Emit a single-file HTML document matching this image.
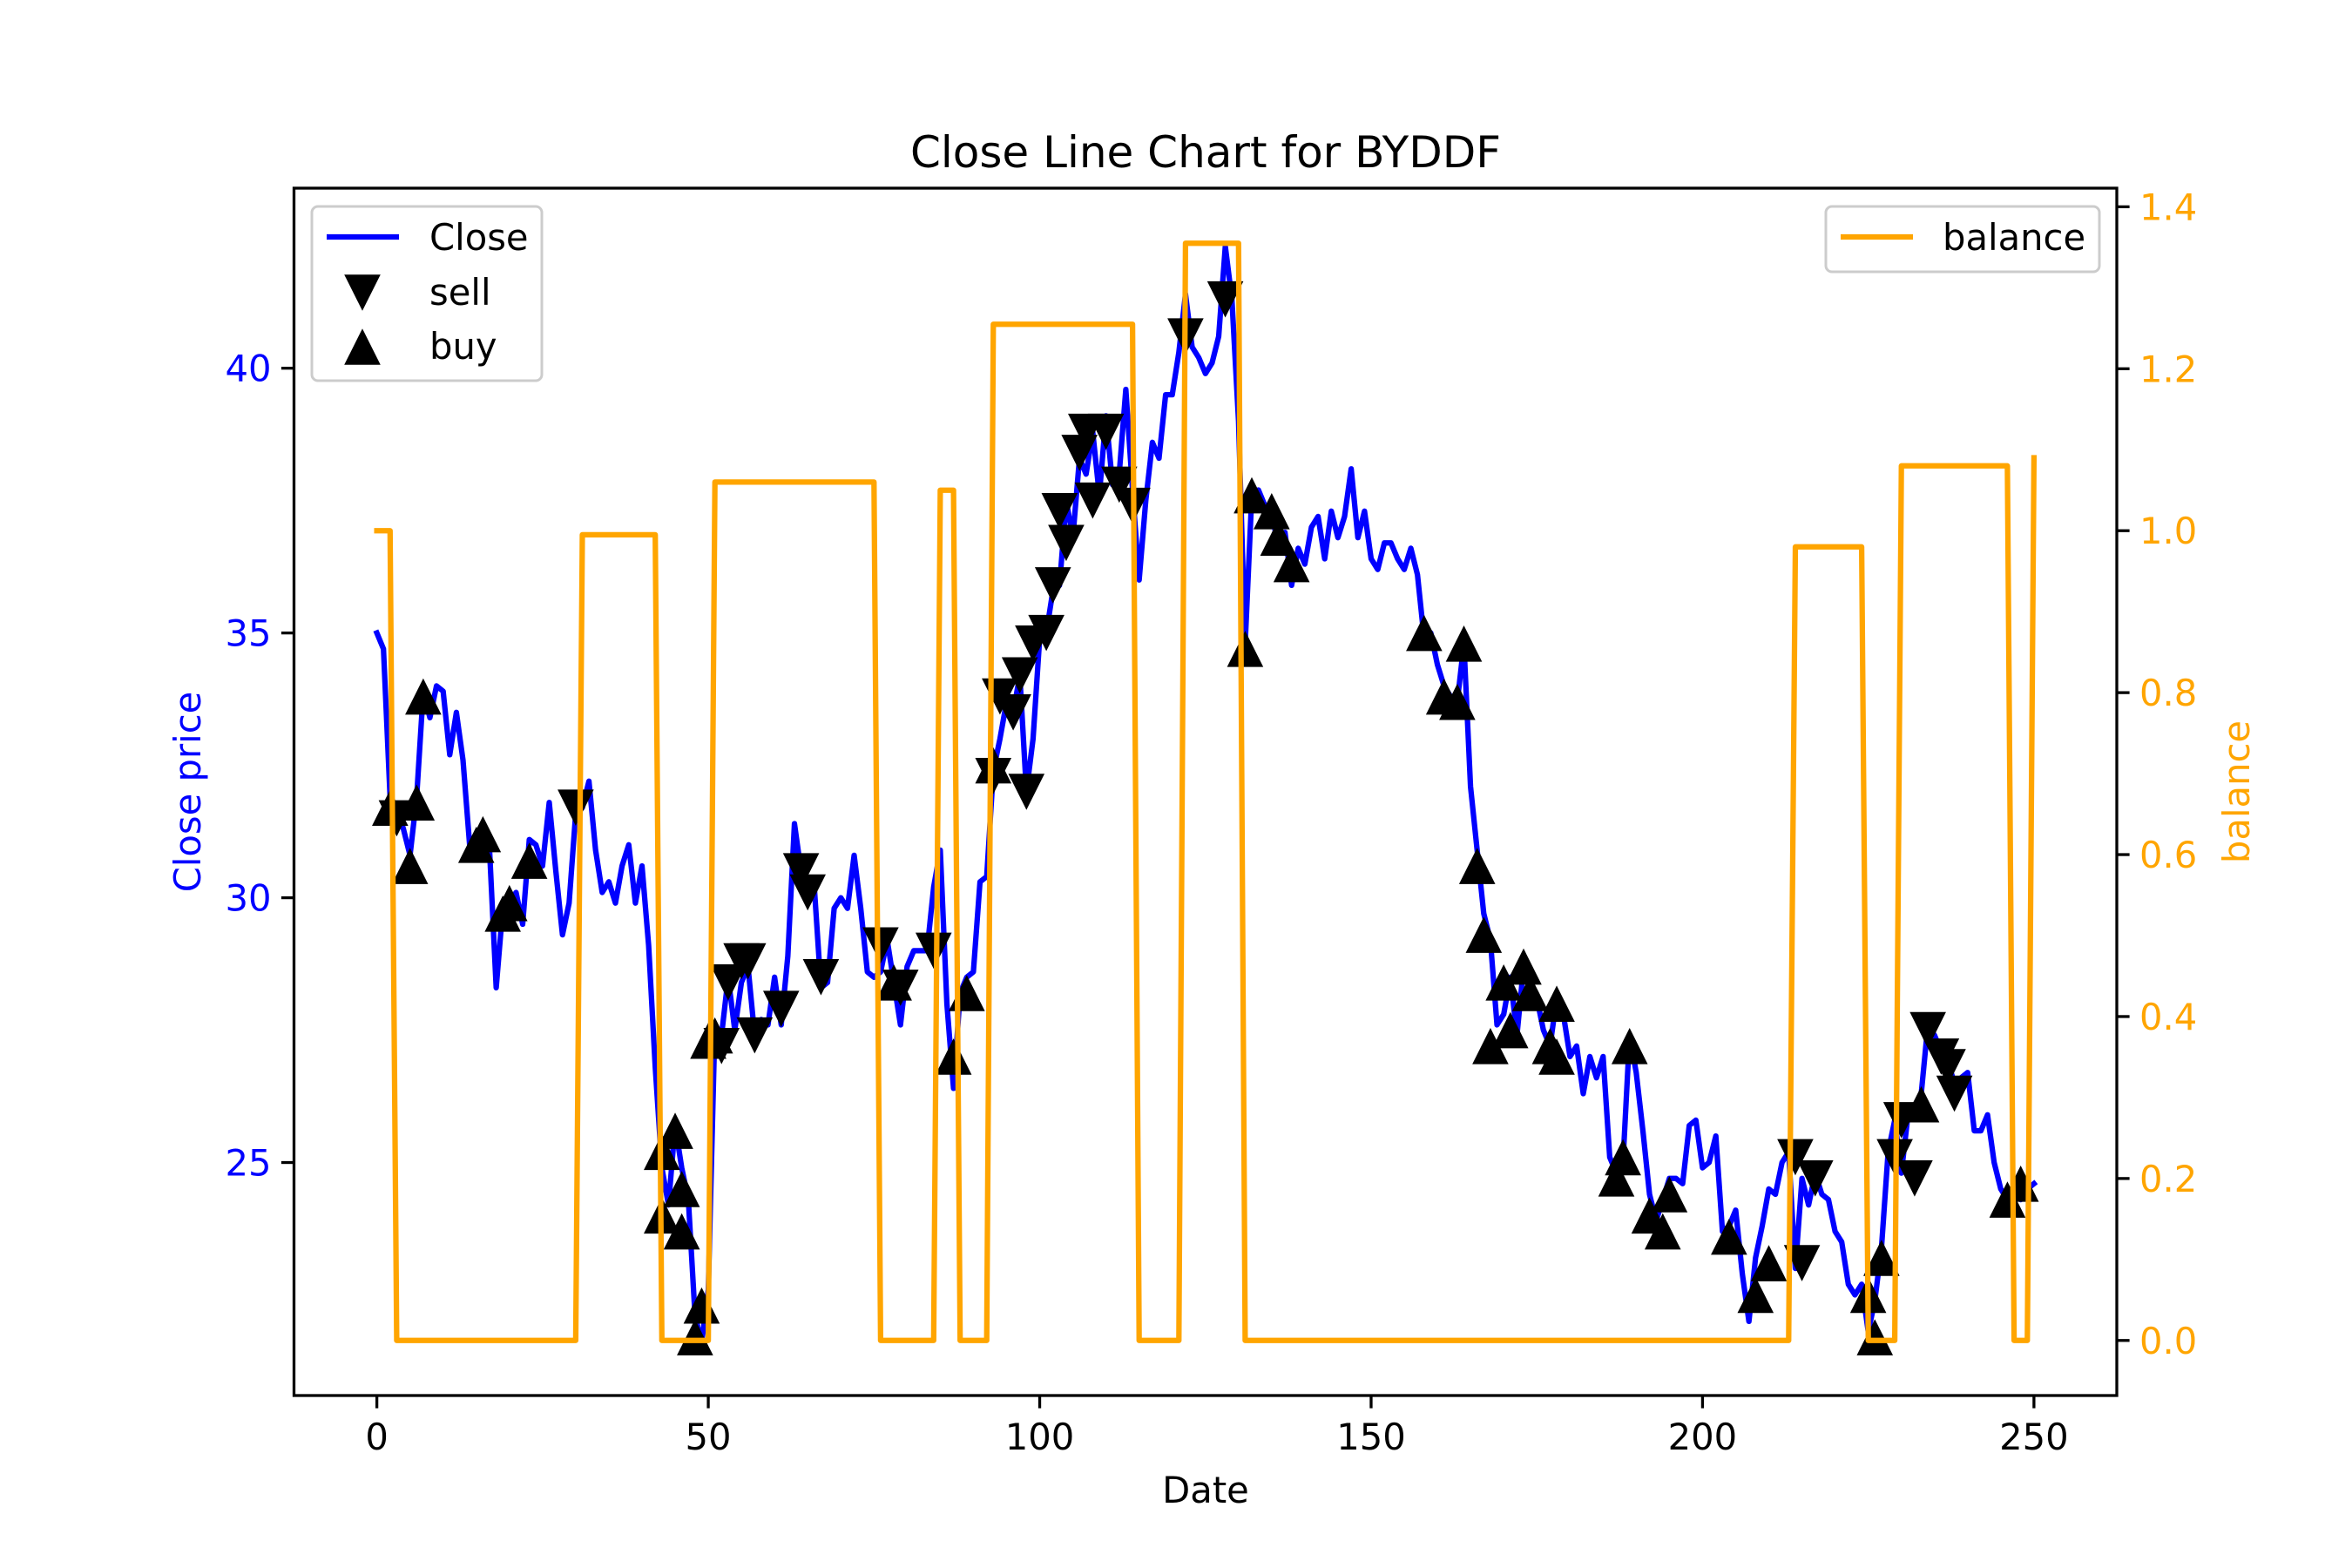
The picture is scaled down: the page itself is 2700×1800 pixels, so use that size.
<!DOCTYPE html>
<html><head><meta charset="utf-8"><style>
html,body{margin:0;padding:0;background:#fff;}
svg{display:block;font-family:"Liberation Sans","DejaVu Sans",sans-serif;}
</style></head><body>
<svg id="chart" width="2700" height="1800" viewBox="0 0 2700 1800" xmlns="http://www.w3.org/2000/svg">
<rect x="0" y="0" width="2700" height="1800" fill="#fff"/>
<text x="1384" y="192" font-size="50" text-anchor="middle" fill="#000" font-family="DejaVu Sans, sans-serif">Close Line Chart for BYDDF</text>
<g id="plot"></g>
<text x="1384" y="1725" font-size="41.7" text-anchor="middle" fill="#000" font-family="DejaVu Sans, sans-serif">Date</text>
<text transform="translate(230,909) rotate(-90)" font-size="41.7" text-anchor="middle" fill="blue" font-family="DejaVu Sans, sans-serif">Close price</text>
<text transform="translate(2582,909) rotate(-90)" font-size="41.7" text-anchor="middle" fill="orange" font-family="DejaVu Sans, sans-serif">balance</text>
</svg>
<script>
const closeValues=[35.0,34.7,31.9,31.7,31.3,30.8,31.9,33.9,33.4,34.0,33.9,32.7,33.5,32.6,31.0,31.0,31.2,30.9,28.3,29.8,29.9,30.1,29.5,31.1,31.0,30.6,31.8,30.5,29.3,29.9,31.6,31.7,32.2,30.9,30.1,30.3,29.9,30.6,31.0,29.9,30.6,29.1,26.8,24.9,24.2,25.7,24.9,24.3,22.1,21.6,22.6,27.6,27.4,28.5,27.5,28.4,28.7,27.4,27.7,27.6,28.5,27.6,28.9,31.4,30.5,30.1,30.2,28.3,28.4,29.8,30.0,29.8,30.8,29.8,28.6,28.5,28.6,29.2,28.4,27.6,28.7,29.0,29.0,29.0,30.2,30.9,28.0,26.4,28.2,28.5,28.6,30.3,30.4,32.4,33.0,33.7,33.5,34.2,32.0,33.0,34.9,35.0,35.8,35.9,37.5,36.8,38.3,38.0,38.8,37.6,39.1,37.8,38.0,39.6,37.7,36.0,37.5,38.6,38.3,39.5,39.5,40.3,41.4,40.4,40.2,39.9,40.1,40.6,42.3,41.3,39.0,34.8,37.6,37.7,37.4,37.3,36.6,36.9,35.9,36.6,36.3,37.0,37.2,36.4,37.3,36.8,37.2,38.1,36.8,37.3,36.4,36.2,36.7,36.7,36.4,36.2,36.6,36.1,34.9,35.0,34.4,34.0,33.8,33.7,34.8,32.1,30.9,29.7,29.2,27.6,27.8,28.5,27.4,28.7,28.3,28.1,27.5,27.2,28.1,27.8,27.0,27.2,26.3,27.0,26.6,27.0,25.1,24.8,25.0,27.4,26.7,25.6,24.4,23.9,24.3,24.7,24.7,24.6,25.7,25.8,24.9,25.0,25.5,23.7,23.8,24.1,22.9,22.0,23.2,23.8,24.5,24.4,25.0,25.2,23.0,24.7,24.2,24.8,24.4,24.3,23.7,23.5,22.7,22.5,22.7,21.8,22.4,23.4,25.2,25.8,24.8,25.9,26.0,26.3,27.6,27.4,27.1,26.9,26.5,26.6,26.7,25.6,25.6,25.9,25.0,24.5,24.3,24.5,24.3,24.5,24.6];
const balanceStartDays=[0,3,31,43,51,76,85,88,93,115,122,131,214,225,230,247,250];
const balanceValues=[1.0,0,0.995,0,1.06,0,1.05,0,1.255,0,1.355,0,0.98,0,1.08,0,1.09];
const sellDays=[3,30,52,53,55,56,57,61,64,65,67,76,79,84,93,94,96,97,98,99,101,102,103,104,106,107,108,110,112,114,122,128,214,215,217,229,230,232,234,236,237,238];
const sellValues=[31.5,31.7,27.2,28.4,28.8,28.8,27.4,27.9,30.5,30.1,28.5,29.1,28.3,29.0,32.3,33.8,33.5,34.2,32.0,34.8,35.0,35.9,37.3,36.7,38.4,38.8,37.5,38.8,37.8,37.4,40.6,41.3,25.1,23.1,24.7,25.1,25.8,24.7,27.5,27.0,26.8,26.3];
const buyDays=[2,5,6,7,15,16,19,20,23,43,43,45,46,46,48,49,50,51,78,87,89,93,131,132,135,136,138,158,161,163,164,166,167,168,170,171,173,174,177,178,178,187,188,189,192,194,195,204,208,210,225,226,227,233,246,248];
const buyValues=[31.7,30.6,31.8,33.8,31.0,31.2,29.7,29.9,30.7,25.2,24.0,25.6,24.5,23.7,21.7,22.3,27.3,27.4,28.4,27.0,28.2,32.5,34.7,37.6,37.3,36.8,36.3,35.0,33.8,33.7,34.8,30.6,29.3,27.2,28.4,27.5,28.7,28.2,27.2,28.0,27.0,24.7,25.1,27.2,24.0,23.7,24.4,23.6,22.5,23.1,22.5,21.7,23.2,26.1,24.3,24.6];
const xTicks=[0,50,100,150,200,250];
const leftTicks=[25,30,35,40];
const rightTicks=[0.0,0.2,0.4,0.6,0.8,1.0,1.2,1.4];

const L=337.5,R=2430,T=216,B=1602;
const X0=-12.5,X1=262.5,YL0=20.6,YL1=43.4,YR0=-0.068,YR1=1.423;
function xs(d){return L+(d-X0)/(X1-X0)*(R-L);}
function yl(v){return B-(v-YL0)/(YL1-YL0)*(B-T);}
function yr(v){return B-(v-YR0)/(YR1-YR0)*(B-T);}
const NS='http://www.w3.org/2000/svg';
const svg=document.getElementById('chart');
const g=document.getElementById('plot');
function mk(tag,attrs,parent){const e=document.createElementNS(NS,tag);for(const k in attrs)e.setAttribute(k,attrs[k]);(parent||g).appendChild(e);return e;}

let pts=closeValues.map((v,i)=>xs(i).toFixed(1)+','+yl(v).toFixed(1)).join(' ');
const cl=mk('polyline',{points:pts,fill:'none',stroke:'blue','stroke-width':6.25,'stroke-linejoin':'round','stroke-linecap':'square'});



function tri(cx,cy,down){const h=20.8;return down?`${cx},${cy+h} ${cx-h},${cy-h} ${cx+h},${cy-h}`:`${cx},${cy-h} ${cx-h},${cy+h} ${cx+h},${cy+h}`;}
sellDays.forEach((d,i)=>{const p=mk('polygon',{points:tri(xs(d),yl(sellValues[i]),true),fill:'#000'});

});
buyDays.forEach((d,i)=>{const p=mk('polygon',{points:tri(xs(d),yl(buyValues[i]),false),fill:'#000'});

});

const balPts=[];
for(let k=0;k<balanceStartDays.length;k++){const end=k+1<balanceStartDays.length?balanceStartDays[k+1]-1:closeValues.length-1;for(let d=balanceStartDays[k];d<=end;d++)balPts.push(xs(d).toFixed(1)+','+yr(balanceValues[k]).toFixed(1));}
const bl=mk('polyline',{points:balPts.join(' '),fill:'none',stroke:'orange','stroke-width':6.25,'stroke-linejoin':'round','stroke-linecap':'square'});



const fr=mk('rect',{x:L,y:T,width:R-L,height:B-T,fill:'none',stroke:'#000','stroke-width':3.3});



xTicks.forEach(t=>{const x=xs(t);mk('line',{x1:x,x2:x,y1:B,y2:B+14.6,stroke:'#000','stroke-width':3.3});
const tx=mk('text',{x:x,y:B+62,'font-size':41.7,'text-anchor':'middle',fill:'#000','font-family':'DejaVu Sans, sans-serif'});tx.textContent=t;

});
leftTicks.forEach(t=>{const y=yl(t);mk('line',{x1:L-14.6,x2:L,y1:y,y2:y,stroke:'#000','stroke-width':3.3});
const tx=mk('text',{x:L-26,y:y+15,'font-size':41.7,'text-anchor':'end',fill:'blue','font-family':'DejaVu Sans, sans-serif'});tx.textContent=t;

});
rightTicks.forEach(t=>{const y=yr(t);mk('line',{x1:R,x2:R+14.6,y1:y,y2:y,stroke:'#000','stroke-width':3.3});
const tx=mk('text',{x:R+26,y:y+15,'font-size':41.7,'text-anchor':'start',fill:'orange','font-family':'DejaVu Sans, sans-serif'});tx.textContent=t.toFixed(1);

});

const lg=mk('g',{});


mk('rect',{x:358,y:237,width:264,height:200,rx:7,fill:'#fff','fill-opacity':0.8,stroke:'#ccc','stroke-width':3},lg);
mk('line',{x1:375,x2:458,y1:272,y2:272,stroke:'blue','stroke-width':6.25},lg);
mk('polygon',{points:tri(416,336,true),fill:'#000'},lg);
mk('polygon',{points:tri(416,398,false),fill:'#000'},lg);
[['Close',287],['sell',350],['buy',412]].forEach(([s,y])=>{const t=mk('text',{x:493,y:y,'font-size':41.7,fill:'#000','font-family':'DejaVu Sans, sans-serif'},lg);t.textContent=s;

});
const rg=mk('g',{});


mk('rect',{x:2096,y:237,width:314,height:75,rx:7,fill:'#fff','fill-opacity':0.8,stroke:'#ccc','stroke-width':3},rg);
mk('line',{x1:2113,x2:2196,y1:272,y2:272,stroke:'orange','stroke-width':6.25},rg);
const rt=mk('text',{x:2230,y:287,'font-size':41.7,fill:'#000','font-family':'DejaVu Sans, sans-serif'},rg);rt.textContent='balance';


</script>
</body></html>
